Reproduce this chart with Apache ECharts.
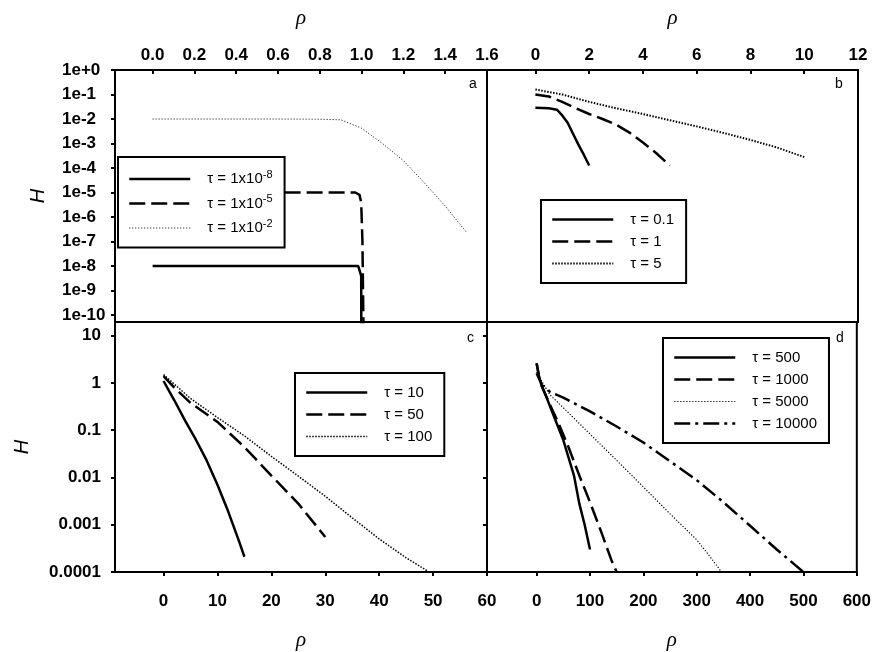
<!DOCTYPE html>
<html><head><meta charset="utf-8">
<script src="https://cdn.jsdelivr.net/npm/echarts/dist/echarts.min.js"></script>
<style>html,body{margin:0;padding:0;background:#fff}#c{width:874px;height:652px}</style>
</head><body><div id="c"></div>
<script>
// ---------- Panel a ----------
const a1_rho = [0, 0.984, 0.998, 0.999];
const a1_H   = [1e-8, 1e-8, 4e-9, 1e-12];
const a2_rho = [0, 0.97, 0.99, 0.998, 1.004, 1.011];
const a2_H   = [1e-5, 1e-5, 8e-6, 4e-6, 1e-7, 1e-12];
const a3_rho = [0, 0.2, 0.4, 0.6, 0.8, 0.9, 1.0, 1.1, 1.2, 1.3, 1.4, 1.5];
const a3_H   = [1e-2, 1e-2, 1e-2, 1e-2, 9.8e-3, 9.3e-3, 4.2e-3, 1e-3, 2e-4, 2.5e-5, 2.8e-6, 2.5e-7];
const a_names = ['τ = 1x10-8', 'τ = 1x10-5', 'τ = 1x10-2'];
const a_xTicks = [0, 0.2, 0.4, 0.6, 0.8, 1.0, 1.2, 1.4, 1.6];
const a_yTicks = [1, 1e-1, 1e-2, 1e-3, 1e-4, 1e-5, 1e-6, 1e-7, 1e-8, 1e-9, 1e-10];
const a_yLabels = ['1e+0','1e-1','1e-2','1e-3','1e-4','1e-5','1e-6','1e-7','1e-8','1e-9','1e-10'];

// ---------- Panel b ----------
const b1_rho = [0, 0.5, 0.8, 1.0, 1.2, 1.4, 1.6, 1.8, 2.0];
const b1_H   = [0.029, 0.0275, 0.024, 0.014, 0.007, 0.0025, 9e-4, 3.5e-4, 1.26e-4];
const b2_rho = [0, 0.5, 1, 1.5, 2, 2.5, 3, 3.5, 4, 4.5, 5];
const b2_H   = [0.1, 0.083, 0.05, 0.0275, 0.016, 0.01, 0.0059, 0.0028, 0.0011, 4e-4, 1.26e-4];
const b3_rho = [0, 1, 2, 3, 4, 5, 6, 7, 8, 9, 10];
const b3_H   = [0.16, 0.1, 0.05, 0.0275, 0.016, 0.0089, 0.005, 0.0027, 0.0014, 6.8e-4, 2.8e-4];
const b_names = ['τ = 0.1', 'τ = 1', 'τ = 5'];
const b_xTicks = [0, 2, 4, 6, 8, 10, 12];

// ---------- Panel c ----------
const c1_rho = [0, 2, 4, 6, 8, 10, 12, 14, 15];
const c1_H   = [1.1, 0.43, 0.16, 0.063, 0.023, 0.007, 0.0019, 4.5e-4, 2.1e-4];
const c2_rho = [0, 2, 5, 10, 15, 20, 25, 30];
const c2_H   = [1.4, 0.8, 0.38, 0.15, 0.044, 0.011, 0.0028, 5.5e-4];
const c3_rho = [0, 5, 10, 15, 20, 25, 30, 35, 40, 45, 50];
const c3_H   = [1.5, 0.47, 0.186, 0.076, 0.028, 0.0107, 0.004, 0.0014, 5e-4, 2e-4, 8.9e-5];
const c_names = ['τ = 10', 'τ = 50', 'τ = 100'];
const c_xTicks = [0, 10, 20, 30, 40, 50, 60];
const c_yTicks = [10, 1, 0.1, 0.01, 0.001, 0.0001];
const c_yLabels = ['10', '1', '0.1', '0.01', '0.001', '0.0001'];

// ---------- Panel d ----------
const d1_rho = [0, 5, 10, 20, 30, 40, 50, 60, 70, 80, 90, 100];
const d1_H   = [2.6, 1.3, 0.85, 0.45, 0.23, 0.12, 0.062, 0.026, 0.011, 0.0028, 0.001, 3e-4];
const d2_rho = [0, 5, 10, 20, 30, 40, 60, 80, 100, 120, 140, 150];
const d2_H   = [2.6, 1.25, 0.83, 0.47, 0.26, 0.15, 0.043, 0.011, 0.003, 7.6e-4, 1.8e-4, 1e-4];
const d3_rho = [0, 10, 25, 50, 100, 150, 200, 250, 300, 325, 350];
const d3_H   = [1.7, 1.07, 0.56, 0.30, 0.083, 0.023, 0.0063, 0.0017, 4.8e-4, 2.1e-4, 8.9e-5];
const d4_rho = [0, 10, 25, 50, 100, 150, 200, 250, 300, 350, 400, 450, 500];
const d4_H   = [1.6, 0.9, 0.65, 0.49, 0.25, 0.12, 0.055, 0.022, 0.0088, 0.003, 9.5e-4, 3e-4, 1e-4];
const d_names = ['τ = 500', 'τ = 1000', 'τ = 5000', 'τ = 10000'];
const d_xTicks = [0, 100, 200, 300, 400, 500, 600];

const panelLetters = ['a', 'b', 'c', 'd'];

// ---------- helpers ----------
const zip = (xs, ys) => xs.map((x, i) => [x, ys[i]]);
const FONT = 'Liberation Sans';
const labelFor = (ticks, labels) => v => {
  for (let i = 0; i < ticks.length; i++) {
    if (Math.abs(Math.log10(v) - Math.log10(ticks[i])) < 1e-6) return labels[i];
  }
  return '';
};
const tickLabelStyle = { color: '#000', fontFamily: FONT, fontWeight: 'bold', fontSize: 17 };
const tickLine = { color: '#000', width: 2 };

const SOLID = { color: '#000', width: 2.5, type: 'solid' };
const DASH = { color: '#000', width: 2.5, type: [16, 6] };
const DASHDOT = { color: '#000', width: 2.5, type: [16, 5, 3, 5] };

function line(name, xs, ys, idx, style) {
  return {
    name, type: 'line', xAxisIndex: idx, yAxisIndex: idx,
    data: zip(xs, ys), symbol: 'none', showSymbol: false, clip: true,
    lineStyle: style, itemStyle: { color: '#000' }, emphasis: { disabled: true },
    animation: false
  };
}

function xAx(idx, min, max, ticks, pos, fmt, inside, margin, nameGap) {
  return {
    gridIndex: idx, type: 'value', position: pos, min, max,
    axisLine: { show: false, onZero: false }, splitLine: { show: false },
    axisTick: { show: true, inside, length: 4, lineStyle: tickLine, customValues: ticks },
    axisLabel: Object.assign({ customValues: ticks, formatter: fmt, margin }, tickLabelStyle),
    name: 'ρ', nameLocation: 'middle', nameGap, nameMoveOverlap: false,
    nameTextStyle: { fontFamily: 'Liberation Serif', fontStyle: 'italic', fontSize: 21, color: '#000' }
  };
}

function legend(names, left, top, extra) {
  return Object.assign({
    data: names, left, top, orient: 'vertical',
    backgroundColor: '#fff', borderColor: '#000', borderWidth: 2, borderRadius: 0,
    padding: [12, 12, 12, 10], itemWidth: 61, itemHeight: 14, itemGap: 7,
    selectedMode: false,
    itemStyle: { opacity: 0, color: 'rgba(0,0,0,0)', borderWidth: 0 },
    lineStyle: { width: 'inherit' },
    textStyle: { color: '#000', fontFamily: FONT, fontSize: 15, padding: [0, 0, 0, 12] }
  }, extra || {});
}

const option = {
  animation: false,
  backgroundColor: '#fff',
  grid: [
    { left: 115, top: 70, width: 372, height: 252, show: true, borderColor: '#000', borderWidth: 2 },
    { left: 487, top: 70, width: 371, height: 252, show: true, borderColor: '#000', borderWidth: 2 },
    { left: 115, top: 322, width: 372, height: 255, show: true, borderColor: '#000', borderWidth: 2 },
    { left: 487, top: 322, width: 371, height: 255, show: true, borderColor: '#000', borderWidth: 2 }
  ],
  xAxis: [
    xAx(0, -0.18, 1.6, a_xTicks, 'top', v => v.toFixed(1), true, 6, 41),
    xAx(1, -1.8, 12, b_xTicks, 'top', v => String(v), true, 6, 41),
    xAx(2, -9, 60, c_xTicks, 'bottom', v => String(v), false, 21, 58),
    xAx(3, -93, 600, d_xTicks, 'bottom', v => String(v), false, 21, 58)
  ],
  yAxis: [
    {
      gridIndex: 0, type: 'log', min: 5.2e-11, max: 1,
      axisLine: { show: false, onZero: false }, splitLine: { show: false }, minorTick: { show: false },
      axisTick: { show: true, inside: false, length: 4, lineStyle: tickLine, customValues: a_yTicks },
      axisLabel: Object.assign({ customValues: a_yTicks, formatter: labelFor(a_yTicks, a_yLabels), align: 'left', margin: 53 }, tickLabelStyle),
      name: 'H', nameLocation: 'middle', nameGap: 67, nameMoveOverlap: false,
      nameTextStyle: { fontFamily: FONT, fontStyle: 'italic', fontSize: 20, color: '#000' }
    },
    {
      gridIndex: 1, type: 'log', min: 5.2e-11, max: 1,
      axisLine: { show: false, onZero: false }, splitLine: { show: false },
      axisTick: { show: false }, axisLabel: { show: false }
    },
    {
      gridIndex: 2, type: 'log', min: 1e-4, max: 19.5,
      axisLine: { show: false, onZero: false }, splitLine: { show: false },
      axisTick: { show: true, inside: false, length: 4, lineStyle: tickLine, customValues: c_yTicks },
      axisLabel: Object.assign({ customValues: c_yTicks, formatter: labelFor(c_yTicks, c_yLabels), margin: 14 }, tickLabelStyle),
      name: 'H', nameLocation: 'middle', nameGap: 83, nameMoveOverlap: false,
      nameTextStyle: { fontFamily: FONT, fontStyle: 'italic', fontSize: 20, color: '#000' }
    },
    {
      gridIndex: 3, type: 'log', min: 1e-4, max: 19.5,
      axisLine: { show: false, onZero: false }, splitLine: { show: false },
      axisTick: { show: true, inside: false, length: 4, lineStyle: tickLine, customValues: c_yTicks },
      axisLabel: { show: false }
    }
  ],
  legend: [
    legend(a_names, 118, 157, {
      itemGap: 7,
      formatter: n => { const m = n.match(/^(.*10)(-\d+)$/); return '{b|' + m[1] + '}{s|' + m[2] + '}'; },
      textStyle: {
        color: '#000', fontFamily: FONT, fontSize: 15, padding: [0, 0, 0, 12],
        rich: { b: { fontFamily: FONT, fontSize: 15, color: '#000' },
                s: { fontFamily: FONT, fontSize: 11, color: '#000', padding: [0, 0, 9, 0] } }
      }
    }),
    legend(b_names, 541, 200),
    legend(c_names, 295, 373),
    legend(d_names, 663, 338)
  ],
  graphic: [
    { type: 'text', left: 469, top: 77, style: { text: panelLetters[0], font: '14px "Liberation Sans"', fill: '#000' } },
    { type: 'text', left: 835, top: 77, style: { text: panelLetters[1], font: '14px "Liberation Sans"', fill: '#000' } },
    { type: 'text', left: 467, top: 331, style: { text: panelLetters[2], font: '14px "Liberation Sans"', fill: '#000' } },
    { type: 'text', left: 836, top: 331, style: { text: panelLetters[3], font: '14px "Liberation Sans"', fill: '#000' } }
  ],
  series: [
    line(a_names[0], a1_rho, a1_H, 0, SOLID),
    line(a_names[1], a2_rho, a2_H, 0, DASH),
    line(a_names[2], a3_rho, a3_H, 0, { color: '#000', width: 1, type: [1, 2] }),
    line(b_names[0], b1_rho, b1_H, 1, SOLID),
    line(b_names[1], b2_rho, b2_H, 1, DASH),
    line(b_names[2], b3_rho, b3_H, 1, { color: '#000', width: 2, type: [1.5, 1.5] }),
    line(c_names[0], c1_rho, c1_H, 2, SOLID),
    line(c_names[1], c2_rho, c2_H, 2, DASH),
    line(c_names[2], c3_rho, c3_H, 2, { color: '#000', width: 1.5, type: [1.5, 1.5] }),
    line(d_names[0], d1_rho, d1_H, 3, SOLID),
    line(d_names[1], d2_rho, d2_H, 3, DASH),
    line(d_names[2], d3_rho, d3_H, 3, { color: '#000', width: 1.2, type: [1.2, 1.8] }),
    line(d_names[3], d4_rho, d4_H, 3, DASHDOT)
  ]
};

const chart = echarts.init(document.getElementById('c'), null, { renderer: 'canvas' });
chart.setOption(option);
</script></body></html>
